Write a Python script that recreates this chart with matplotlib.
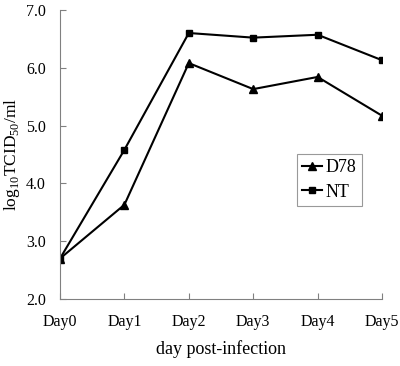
import matplotlib
matplotlib.use("Agg")
import matplotlib.pyplot as plt

# data
days = ["Day0", "Day1", "Day2", "Day3", "Day4", "Day5"]
d78 = [2.70, 3.63, 6.08, 5.63, 5.84, 5.17]
nt = [2.70, 4.58, 6.60, 6.52, 6.57, 6.13]

plt.rcParams['font.family'] = ['Liberation Serif', 'DejaVu Serif']
plt.rcParams['mathtext.fontset'] = 'custom'
plt.rcParams['mathtext.rm'] = 'Liberation Serif'

fig = plt.figure(figsize=(4.0, 3.66), dpi=100)
ax = fig.add_axes([0.15, 0.183, 0.805, 0.79])

x = range(len(days))
ax.plot(x, d78, color='black', lw=1.5, marker='^', ms=5.5, label='D78')
ax.plot(x, nt, color='black', lw=1.5, marker='s', ms=5, label='NT')

ax.set_xlim(0, 5)
ax.set_ylim(2, 7)
ax.set_xticks(list(x))
ax.set_xticklabels(days)
ax.set_yticks([2, 3, 4, 5, 6, 7])
ax.set_yticklabels(["2.0", "3.0", "4.0", "5.0", "6.0", "7.0"])
ax.tick_params(axis='x', direction='in', length=4, pad=11, labelsize=11.5, color='gray')
ax.tick_params(axis='y', direction='in', length=4, pad=10, labelsize=11.5, color='gray')

for s in ['top', 'right']:
    ax.spines[s].set_visible(False)
for s in ['left', 'bottom']:
    ax.spines[s].set_color('gray')

ax.set_xlabel('day post-infection', fontsize=13, labelpad=7)
ax.set_ylabel('log$_{\\mathregular{10}}$TCID$_{\\mathregular{50}}$/ml', fontsize=12.5)
ax.yaxis.set_label_coords(-0.118, 0.5)

leg = ax.legend(loc='upper left', bbox_to_anchor=(0.736, 0.502), borderaxespad=0,
                fancybox=False, edgecolor='gray', fontsize=13, handlelength=1.1,
                handletextpad=0.2, borderpad=0.3, labelspacing=0.4)
leg.get_frame().set_linewidth(0.8)

fig.savefig('out.png', dpi=100)
